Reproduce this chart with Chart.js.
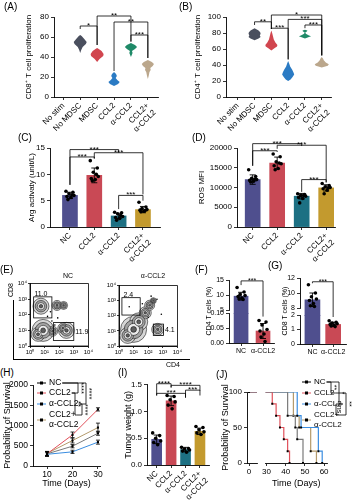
<!DOCTYPE html>
<html><head><meta charset="utf-8">
<script src="https://cdn.jsdelivr.net/npm/chart.js@4"></script>
<style>
body{margin:0;background:#fff;}
#fig{position:relative;width:353px;height:500px;overflow:hidden;font-family:'Liberation Sans',Arial,sans-serif;color:#000;}
#fig canvas{position:absolute;}
.t{position:absolute;white-space:nowrap;line-height:1;}
.ln{position:absolute;background:#000;}
</style></head>
<body><div id="fig"></div>
<script>
// ---------- data ----------
const groupsAB = ['No stim', 'No MDSC', 'MDSC', 'CCL2', 'α-CCL2', ['CCL2+', 'α-CCL2']];
const violinColors = [null, '#4a4f5e', '#d1464f', '#2b7bc4', '#1f8a68', '#bba78c'];
// violin outlines: [value, half width in group spacings]
const violinCD8 = [
  null,
  [[44, 0], [47, 0.05], [50, 0.12], [53, 0.28], [55, 0.32], [58, 0.2], [61, 0.07], [62, 0]],
  [[35, 0], [38, 0.12], [41, 0.3], [43, 0.32], [46, 0.22], [48, 0.08], [49, 0]],
  [[11, 0], [13, 0.2], [15, 0.28], [17, 0.16], [19, 0.08], [21, 0.14], [23, 0.1], [25, 0]],
  [[40, 0], [42, 0.04], [44, 0.08], [46, 0.05], [48, 0.2], [50, 0.3], [52, 0.2], [54, 0]],
  [[18, 0], [21, 0.04], [25, 0.08], [27, 0.14], [29, 0.12], [31, 0.24], [33, 0.3], [35, 0.2], [37, 0]]
];
const violinCD4 = [
  null,
  [[71, 0], [73, 0.2], [75, 0.3], [77, 0.26], [79, 0.3], [81, 0.28], [83, 0.2], [86, 0]],
  [[58, 0], [61, 0.15], [63, 0.28], [65, 0.3], [68, 0.2], [72, 0.12], [76, 0.08], [80, 0.04], [83, 0]],
  [[20, 0], [22, 0.12], [25, 0.22], [28, 0.3], [31, 0.26], [34, 0.2], [38, 0.1], [42, 0.05], [45, 0]],
  [[73, 0], [75, 0.2], [76, 0.3], [77, 0.2], [79, 0.04], [81, 0.02], [82, 0.1], [83, 0.12], [84, 0]],
  [[37, 0], [39, 0.3], [41, 0.35], [43, 0.2], [46, 0.1], [48, 0.06], [50, 0]]
];
// brackets: [from, to, top, left leg end, right leg end, label]
const sigCD8 = [[1, 2, 71, 68, 52, '*'], [2, 4, 81, 52, 55, '**'], [3, 5, 75, 26, 39, '**'], [4, 5, 62, 56, 39, '***']];
const sigCD4 = [[1, 2, 94, 90, 85, '**'], [2, 5, 102.5, 85, 52, '*'], [2, 3, 86, 85, 47, '***'], [3, 5, 97, 47, 52, '***'], [4, 5, 90, 86, 52, '***']];

const barGroups = ['NC', 'CCL2', 'α-CCL2', ['CCL2+', 'α-CCL2']];
const barColors = ['#4f4f8e', '#c94955', '#1d7083', '#c39a2e'];
const argMean = [6.0, 9.8, 2.1, 3.3];
const argSd = [0.6, 1.4, 0.5, 0.6];
const argDots = [[6.8, 6.6, 6.3, 6.0, 5.8, 5.6, 5.2, 6.1], [12.6, 11.2, 10.4, 9.6, 9.2, 9.0, 8.8, 10.0],
  [2.8, 2.7, 2.5, 2.0, 1.8, 1.6, 1.3, 2.2], [4.7, 3.8, 3.5, 3.3, 3.2, 3.0, 2.9, 3.1]];
const sigArg = [[0, 2, 14.7, 8.0, 14.1, '***'], [0, 1, 13.3, 8.0, 13.0, '***'], [1, 3, 14.1, 13.0, 6.2, '***'], [2, 3, 6.0, 3.4, 5.0, '***']];

const rosMean = [12000, 16200, 7800, 9900];
const rosSd = [1200, 1500, 700, 800];
const rosDots = [[14500, 12800, 12300, 12000, 11800, 11600, 11400, 12100], [18500, 17800, 16500, 16000, 15500, 14800, 14500, 16200],
  [8400, 8200, 8000, 7800, 7500, 7200, 6100, 8000], [11000, 10500, 10200, 10000, 9700, 9300, 8400, 9900]];
const sigRos = [[0, 2, 21100, 15500, 20500, '***'], [0, 1, 19300, 15500, 19000, '***'], [1, 3, 20700, 19800, 11300, '***'], [2, 3, 12000, 8900, 11300, '***']];

// flow plots: populations [log10 CD4, log10 CD8, contour size]
const flowTickText = ['10⁰', '10¹', '10²', '10³', '10⁴'];
const popNC = [[0.75, 2.55, 8], [1.85, 2.6, 5], [2.3, 2.6, 4], [0.9, 1.0, 11], [0.55, 0.75, 7], [1.55, 0.95, 5], [2.5, 1.0, 8], [2.25, 1.15, 5]];
const dotsNC = [[1.5, 1.6], [1.4, 2.2], [1.2, 1.9], [1.7, 1.35], [1.9, 1.8]];
const gatesNC = [[0.25, 1.5, 1.8, 3.15, '11.0', 0.3, 3.35, 'left'], [1.6, 3.0, 0.35, 1.5, '11.9', 3.1, 0.9, 'left']];
const popAnti = [[1.0, 1.1, 13], [1.35, 1.6, 9], [1.8, 2.2, 6], [2.1, 2.7, 5], [2.35, 3.0, 3], [2.65, 1.1, 6], [0.6, 0.7, 8]];
const dotsAnti = [[2.6, 3.1], [2.2, 3.3], [1.6, 2.8], [2.9, 2.1], [2.0, 1.9], [0.7, 2.6]];
const gatesAnti = [[0.2, 1.45, 2.05, 3.2, '2.4', 0.3, 3.35, 'left'], [2.35, 3.05, 0.7, 1.45, '4.1', 3.15, 1.05, 'left']];

const pairGroups = ['NC', 'α-CCL2'];
const pairColors = ['#4f4f8e', '#c94955'];
const cd4Mean = [9.6, 0.04];
const cd4Sd = [1.3, 0.025];
const cd4Dots = [[12.5, 11.0, 10.2, 9.8, 9.5, 9.0, 8.7, 8.5], [0.075, 0.07, 0.06, 0.045, 0.04, 0.03, 0.02, 0.005]];
const cd8Mean = [9.1, 1.35];
const cd8Sd = [0.9, 0.15];
const cd8Dots = [[11.1, 10.0, 9.5, 9.2, 9.0, 8.6, 8.3, 8.2], [1.6, 1.5, 1.45, 1.4, 1.35, 1.3, 1.25, 1.2]];

const seriesNames = ['NC', 'CCL2', 'α-CCL2', ['CCL2+', 'α-CCL2']];
const lineColors = ['#7a7a7a', '#e0505a', '#3a8de0', '#b49a6c'];
const days = [10, 20, 30];
const growth = [[300, 490, 810], [300, 770, 1400], [290, 350, 590], [310, 630, 950]];
const growthErr = [[50, 40, 50], [60, 70, 40], [50, 40, 50], [50, 60, 110]];

const tumorMean = [0.48, 1.2, 0.29, 0.63];
const tumorSd = [0.08, 0.09, 0.04, 0.06];
const tumorDots = [[0.6, 0.55, 0.5, 0.45, 0.42, 0.38], [1.3, 1.28, 1.22, 1.18, 1.12, 1.05],
  [0.33, 0.31, 0.3, 0.28, 0.26, 0.24], [0.72, 0.7, 0.66, 0.62, 0.6, 0.57]];
const sigTumor = [[0, 1, 1.52, 1.30, 1.45, '****'], [0, 2, 1.34, 1.30, 1.26, '***'], [1, 3, 1.49, 1.45, 1.39, '****'], [2, 3, 1.40, 1.26, 1.30, '***']];

// survival curves [day, %]
const survival = [
  [[0, 100], [41, 66.7], [45, 50], [46, 33.3], [49, 0]],
  [[0, 100], [33, 83.3], [35, 66.7], [37, 50], [39, 33.3], [41, 16.7], [42, 0]],
  [[0, 100], [46, 66.7], [48, 50], [57, 16.7], [59, 0]],
  [[0, 100], [44, 66.7], [47, 50], [53, 16.7], [56, 0]]
];

// ---------- helpers ----------
const FONT = "'Liberation Sans', Arial, sans-serif";
Chart.defaults.font.family = FONT;
Chart.defaults.color = '#000';
const fig = document.getElementById('fig');
const JIT = [-4, 3, -1, 4, -3, 1, -2, 2];

function text(s, l, t, size, css) {
  const d = document.createElement('div');
  d.className = 't';
  d.textContent = s;
  d.style.cssText += 'left:' + l + 'px;top:' + t + 'px;font-size:' + size + 'px;' + (css || '');
  fig.appendChild(d);
}
function line(l, t, w, h) {
  const d = document.createElement('div');
  d.className = 'ln';
  d.style.cssText += 'left:' + l + 'px;top:' + t + 'px;width:' + w + 'px;height:' + h + 'px';
  fig.appendChild(d);
}

function axLines(tl) {
  return {
    grid: { display: true, drawOnChartArea: false, drawTicks: true, tickLength: tl || 3, color: '#000', lineWidth: 0.8, offset: false },
    border: { display: true, color: '#000', width: 0.9 }
  };
}
function yLin(min, max, ticks, size, fmt, title) {
  return Object.assign(axLines(), {
    type: 'linear', min, max,
    afterBuildTicks: s => { s.ticks = ticks.map(v => ({ value: v })); },
    ticks: { font: { size }, padding: 2, callback: fmt || (v => String(v)) },
    title: title || { display: false }
  });
}
function xCat(labels, min, max, size, rot) {
  return Object.assign(axLines(), {
    type: 'linear', min, max, offset: false,
    afterBuildTicks: s => { s.ticks = labels.map((_, i) => ({ value: i })); },
    ticks: { font: { size }, padding: 1, autoSkip: false, minRotation: rot, maxRotation: rot, callback: v => labels[v] }
  });
}
function yTitle(txt, size, pad) {
  return { display: true, text: txt, font: { size }, padding: { top: pad, bottom: 0 } };
}

function draw(rect, area, type, data, scales, plugins, opt) {
  opt = opt || {};
  const c = document.createElement('canvas');
  c.width = rect[2]; c.height = rect[3];
  c.style.cssText = 'left:' + rect[0] + 'px;top:' + rect[1] + 'px;width:' + rect[2] + 'px;height:' + rect[3] + 'px';
  fig.appendChild(c);
  const pad = {
    left: opt.noY ? area[0] - rect[0] : 0,
    top: area[1] - rect[1],
    right: rect[0] + rect[2] - area[2],
    bottom: opt.noX ? rect[1] + rect[3] - area[3] : 0
  };
  if (!opt.noY) scales.y.afterFit = s => { s.width = area[0] - rect[0]; };
  else scales.y.display = false;
  if (!opt.noX) scales.x.afterFit = s => { s.height = rect[1] + rect[3] - area[3]; };
  else scales.x.display = false;
  return new Chart(c, {
    type, data,
    options: {
      responsive: false, animation: false, devicePixelRatio: 1,
      layout: { padding: pad }, scales,
      plugins: { legend: { display: false }, tooltip: { enabled: false } }
    },
    plugins: plugins || []
  });
}

function violinPlugin(profiles, colors, widen) {
  return {
    id: 'violin', afterDatasetsDraw(chart) {
      const { ctx, scales: { x, y } } = chart;
      const unit = (x.getPixelForValue(1) - x.getPixelForValue(0)) * widen;
      profiles.forEach((p, i) => {
        if (!p) return;
        const cx = x.getPixelForValue(i);
        ctx.beginPath();
        p.forEach(([v, w], k) => { const px = cx + w * unit, py = y.getPixelForValue(v); k ? ctx.lineTo(px, py) : ctx.moveTo(px, py); });
        for (let k = p.length - 1; k >= 0; k--) ctx.lineTo(cx - p[k][1] * unit, y.getPixelForValue(p[k][0]));
        ctx.closePath();
        ctx.fillStyle = colors[i];
        ctx.fill();
      });
    }
  };
}

function bracketPlugin(list, size) {
  return {
    id: 'brackets', afterDraw(chart) {
      const { ctx, scales: { x, y } } = chart;
      ctx.save();
      ctx.strokeStyle = '#000'; ctx.fillStyle = '#000'; ctx.lineWidth = 0.8;
      ctx.font = (size || 8) + 'px ' + FONT;
      ctx.textAlign = 'center'; ctx.textBaseline = 'alphabetic';
      list.forEach(([a, b, top, la, lb, lab]) => {
        const xa = x.getPixelForValue(a), xb = x.getPixelForValue(b), yt = y.getPixelForValue(top);
        ctx.beginPath();
        ctx.moveTo(xa, y.getPixelForValue(la)); ctx.lineTo(xa, yt); ctx.lineTo(xb, yt); ctx.lineTo(xb, y.getPixelForValue(lb));
        ctx.stroke();
        ctx.fillText(lab, (xa + xb) / 2, yt + 2);
      });
      ctx.restore();
    }
  };
}

function dotsPlugin(dots, mean, sd) {
  return {
    id: 'dots', afterDatasetsDraw(chart) {
      const { ctx, chartArea: a, scales: { x, y } } = chart;
      ctx.save();
      ctx.beginPath(); ctx.rect(a.left - 4, a.top - 4, a.right - a.left + 8, a.bottom - a.top + 8); ctx.clip();
      ctx.strokeStyle = '#000'; ctx.fillStyle = '#000'; ctx.lineWidth = 0.9;
      mean.forEach((m, i) => {
        const cx = x.getPixelForValue(i), hi = y.getPixelForValue(m + sd[i]), lo = y.getPixelForValue(m - sd[i]);
        ctx.beginPath();
        ctx.moveTo(cx, hi); ctx.lineTo(cx, lo);
        ctx.moveTo(cx - 3, hi); ctx.lineTo(cx + 3, hi);
        ctx.moveTo(cx - 3, lo); ctx.lineTo(cx + 3, lo);
        ctx.stroke();
        dots[i].forEach((v, k) => {
          ctx.beginPath(); ctx.arc(cx + JIT[k % JIT.length], y.getPixelForValue(v), 1.8, 0, Math.PI * 2); ctx.fill();
        });
      });
      ctx.restore();
    }
  };
}

function barData(mean, colors, thick, below) {
  return { datasets: [{
    data: mean.map((v, i) => ({ x: i, y: v })), backgroundColor: colors, borderWidth: 0, barThickness: thick,
    clip: { left: 0, top: 0, right: 0, bottom: below || 0 }
  }] };
}

function legendPlugin(rect, names, colors, mx, rows, brs, size) {
  return {
    id: 'lg', afterDraw(chart) {
      const ctx = chart.ctx;
      ctx.save();
      ctx.font = size + 'px ' + FONT; ctx.textBaseline = 'middle'; ctx.fillStyle = '#000';
      const ends = [];
      names.forEach((nm, i) => {
        const lines = Array.isArray(nm) ? nm : [nm];
        const x = mx - rect[0], y = rows[i] - rect[1];
        const my = lines.length > 1 ? y + 5 : y;
        ctx.strokeStyle = i === 0 ? '#000' : colors[i]; ctx.lineWidth = 1;
        ctx.beginPath(); ctx.moveTo(x, my); ctx.lineTo(x + 9, my); ctx.stroke();
        ctx.fillRect(x + 3, my - 1.5, 3, 3);
        lines.forEach((s, k) => ctx.fillText(s, x + 12, y + k * 10));
        ends.push(x + 13 + ctx.measureText(lines[0]).width);
      });
      ctx.strokeStyle = '#000'; ctx.lineWidth = 0.8;
      brs.forEach(([a, b, bx, lab]) => {
        const X = bx - rect[0], ya = rows[a] - rect[1], yb = rows[b] - rect[1];
        ctx.beginPath(); ctx.moveTo(ends[a], ya); ctx.lineTo(X, ya); ctx.lineTo(X, yb); ctx.lineTo(ends[b], yb); ctx.stroke();
        ctx.save(); ctx.translate(X + 0.5, (ya + yb) / 2); ctx.rotate(Math.PI / 2);
        ctx.textAlign = 'center'; ctx.textBaseline = 'alphabetic'; ctx.font = (size - 1) + 'px ' + FONT;
        ctx.fillText(lab, 0, 0); ctx.restore();
      });
      ctx.restore();
    }
  };
}

function errPlugin(err) {
  return {
    id: 'err', afterDatasetsDraw(chart) {
      const { ctx, scales: { y } } = chart;
      ctx.save(); ctx.strokeStyle = '#000'; ctx.lineWidth = 0.8;
      err.forEach((e, i) => {
        chart.getDatasetMeta(i).data.forEach((pt, j) => {
          const v = chart.data.datasets[i].data[j].y;
          const hi = y.getPixelForValue(v + e[j]), lo = y.getPixelForValue(v - e[j]);
          ctx.beginPath();
          ctx.moveTo(pt.x, hi); ctx.lineTo(pt.x, lo);
          ctx.moveTo(pt.x - 2, hi); ctx.lineTo(pt.x + 2, hi);
          ctx.moveTo(pt.x - 2, lo); ctx.lineTo(pt.x + 2, lo);
          ctx.stroke();
        });
      });
      ctx.restore();
    }
  };
}

function flowPlugin(gates) {
  return {
    id: 'gates', afterDraw(chart) {
      const { ctx, chartArea: a, scales: { x, y } } = chart;
      ctx.save();
      ctx.strokeStyle = '#000'; ctx.lineWidth = 0.8;
      ctx.strokeRect(a.left, a.top, a.right - a.left, a.bottom - a.top);
      ctx.font = '7px ' + FONT; ctx.fillStyle = '#000'; ctx.textBaseline = 'middle';
      gates.forEach(([x0, x1, y0, y1, lab, lx, ly, al]) => {
        const px0 = x.getPixelForValue(10 ** x0), px1 = x.getPixelForValue(10 ** x1);
        const py0 = y.getPixelForValue(10 ** y0), py1 = y.getPixelForValue(10 ** y1);
        ctx.strokeRect(px0, py1, px1 - px0, py0 - py1);
        ctx.textAlign = al;
        ctx.fillText(lab, x.getPixelForValue(10 ** lx), y.getPixelForValue(10 ** ly));
      });
      ctx.restore();
    }
  };
}

function flowSets(pops, dots) {
  const fills = ['#d6d6d6', '#a3a3a3', '#ececec', '#5e5e5e'];
  const k = [1, 0.72, 0.46, 0.22];
  const sets = k.map((f, lvl) => ({
    type: 'bubble', order: 10 - lvl,
    data: pops.map(p => ({ x: 10 ** p[0], y: 10 ** p[1], r: p[2] * f })),
    backgroundColor: fills[lvl], borderColor: '#1a1a1a', borderWidth: 0.6
  }));
  sets.push({ type: 'bubble', order: 0, data: dots.map(p => ({ x: 10 ** p[0], y: 10 ** p[1], r: 0.8 })), backgroundColor: '#000', borderWidth: 0 });
  return { datasets: sets };
}
function flowAxis(fontSize) {
  return Object.assign(axLines(2), {
    type: 'logarithmic', min: 1, max: 10000,
    afterBuildTicks: s => { s.ticks = [1, 10, 100, 1000, 10000].map(v => ({ value: v })); },
    ticks: { font: { size: fontSize }, padding: 1, autoSkip: false, maxRotation: 0, callback: v => flowTickText[Math.round(Math.log10(v))] }
  });
}

// ---------- (A) ----------
draw([0, 0, 175, 135], [54, 17, 158, 97], 'scatter', { datasets: [{ data: [] }] }, {
  x: xCat(groupsAB, -0.55, 5.6, 8, 45),
  y: yLin(0, 80, [0, 20, 40, 60, 80], 8, null, yTitle('CD8⁺ T cell proliferation', 8, 24))
}, [violinPlugin(violinCD8, violinColors, 1.2), bracketPlugin(sigCD8)]);

// ---------- (B) ----------
draw([175, 0, 178, 135], [226, 17, 331, 97], 'scatter', { datasets: [{ data: [] }] }, {
  x: xCat(groupsAB, -0.7, 5.55, 8, 45),
  y: yLin(0, 100, [0, 20, 40, 60, 80, 100], 8, null, yTitle('CD4⁺ T cell proliferation', 8, 18))
}, [violinPlugin(violinCD4, violinColors, 1.2), bracketPlugin(sigCD4)]);

// ---------- (C) ----------
draw([0, 135, 175, 132], [50, 148, 160, 227], 'bar', barData(argMean, barColors, 15), {
  x: xCat(barGroups, -0.82, 3.7, 8, 45),
  y: yLin(0, 15, [0, 5, 10, 15], 8, null, yTitle('Arg activaty (unit/L)', 8, 27))
}, [dotsPlugin(argDots, argMean, argSd), bracketPlugin(sigArg)]);

// ---------- (D) ----------
draw([175, 135, 178, 132], [237, 148, 335, 227], 'bar', barData(rosMean, barColors, 15), {
  x: xCat(barGroups, -0.64, 3.36, 8, 45),
  y: yLin(0, 20000, [0, 5000, 10000, 15000, 20000], 8, null, yTitle('ROS MFI', 8, 22))
}, [dotsPlugin(rosDots, rosMean, rosSd), bracketPlugin(sigRos)]);

// ---------- (E) ----------
draw([16, 272, 84, 88], [30, 278, 97, 346], 'bubble', flowSets(popNC, dotsNC), {
  x: flowAxis(6), y: flowAxis(6)
}, [flowPlugin(gatesNC)]);
draw([103, 272, 88, 88], [119, 278, 187, 346], 'bubble', flowSets(popAnti, dotsAnti), {
  x: flowAxis(6), y: flowAxis(6)
}, [flowPlugin(gatesAnti)]);

// ---------- (F) broken axis ----------
draw([200, 272, 78, 50], [229, 280, 274, 310], 'bar', barData(cd4Mean, pairColors, 14, 4), {
  x: xCat(pairGroups, -0.55, 1.5, 7, 0),
  y: yLin(5, 15, [5, 10, 15], 7)
}, [dotsPlugin(cd4Dots, cd4Mean, cd4Sd), bracketPlugin([[0, 1, 14.7, 13.3, 2.8, '***']], 7)], { noX: true });
draw([200, 306, 78, 56], [229, 313, 274, 343], 'bar', barData(cd4Mean, pairColors, 14), {
  x: xCat(pairGroups, -0.55, 1.5, 7, 0),
  y: yLin(0, 0.1, [0, 0.05, 0.1], 7, v => v.toFixed(2))
}, [dotsPlugin(cd4Dots, cd4Mean, cd4Sd)]);

// ---------- (G) broken axis ----------
draw([272, 270, 81, 52], [300, 278, 346, 308], 'bar', barData(cd8Mean, pairColors, 15, 8), {
  x: xCat(pairGroups, -0.6, 1.62, 7, 0),
  y: yLin(8, 12, [8, 10, 12], 7)
}, [dotsPlugin(cd8Dots, cd8Mean, cd8Sd), bracketPlugin([[0, 1, 11.5, 11.3, 6.8, '***']], 7)], { noX: true });
draw([272, 308, 81, 54], [300, 315, 346, 344], 'bar', barData(cd8Mean, pairColors, 15), {
  x: xCat(pairGroups, -0.6, 1.62, 7, 0),
  y: yLin(0, 2, [0, 1, 2], 7)
}, [dotsPlugin(cd8Dots, cd8Mean, cd8Sd)]);

// ---------- (H) ----------
const hX = Object.assign(axLines(), {
  type: 'linear', min: 4.5, max: 30.8,
  afterBuildTicks: s => { s.ticks = days.map(v => ({ value: v })); },
  ticks: { font: { size: 8.5 }, padding: 1 },
  title: { display: true, text: 'Time (Days)', font: { size: 9 }, padding: { top: 0, bottom: 11 } }
});
draw([0, 378, 115, 122], [33, 384, 100, 466], 'line', {
  datasets: growth.map((g, i) => ({
    data: g.map((v, j) => ({ x: days[j], y: v })),
    borderColor: lineColors[i], borderWidth: 1, pointStyle: 'rect', pointRadius: 1.5,
    pointBackgroundColor: '#000', pointBorderColor: '#000', pointBorderWidth: 0
  }))
}, {
  x: hX,
  y: yLin(0, 2000, [0, 500, 1000, 1500, 2000], 8.5, null, yTitle('Probability of Survival', 9, 2.5))
}, [errPlugin(growthErr), legendPlugin([0, 378], seriesNames, lineColors, 37, [383, 393, 404, 415],
  [[0, 1, 78, '****'], [0, 2, 86, '****'], [1, 3, 75, '**'], [2, 3, 82, '****']], 8.5)]);

// ---------- (I) ----------
draw([118, 378, 97, 122], [147, 384, 212, 465], 'bar', barData(tumorMean, barColors, 10), {
  x: xCat(barGroups, -0.67, 3.67, 8, 45),
  y: yLin(0, 1.5, [0, 0.5, 1, 1.5], 8, v => v.toFixed(1), yTitle('Tumor weight (g)', 9, 5))
}, [dotsPlugin(tumorDots, tumorMean, tumorSd), bracketPlugin(sigTumor, 8)]);

// ---------- (J) broken x axis ----------
function survSets() {
  return {
    datasets: survival.map((s, i) => ({
      data: s.map(p => ({ x: p[0], y: p[1] })), stepped: 'before',
      borderColor: lineColors[i], borderWidth: 1.2, pointStyle: 'rect', pointRadius: 1.4,
      pointBackgroundColor: '#000', pointBorderWidth: 0
    }))
  };
}
draw([218, 378, 43, 122], [247, 392, 261, 463], 'line', survSets(), {
  x: Object.assign(axLines(), {
    type: 'linear', min: -1.5, max: 6,
    afterBuildTicks: s => { s.ticks = [{ value: 0 }]; },
    ticks: { font: { size: 8 }, padding: 1 }
  }),
  y: yLin(0, 100, [0, 50, 100], 8, null, yTitle('Probability of Survival', 9, 2.5))
});
draw([261, 378, 92, 122], [263, 392, 327, 463], 'line', survSets(), {
  x: Object.assign(axLines(), {
    type: 'linear', min: 29.5, max: 61.5,
    afterBuildTicks: s => { s.ticks = [30, 40, 50, 60].map(v => ({ value: v })); },
    ticks: { font: { size: 8 }, padding: 1 },
    title: { display: true, text: 'Time (Days)', font: { size: 9 }, padding: { top: 0, bottom: 11 } }
  }),
  y: { type: 'linear', min: 0, max: 100 }
}, [legendPlugin([261, 378], seriesNames, lineColors, 302, [382, 393, 404, 415],
  [[0, 1, 331, '**'], [0, 2, 339, '*'], [2, 3, 336, 'ns'], [1, 3, 346, '**']], 8)], { noY: true });

// ---------- text outside the plots ----------
[['(A)', 4, 2], ['(B)', 179, 2], ['(C)', 18, 133], ['(D)', 192, 133], ['(E)', 0, 265], ['(F)', 195, 265],
 ['(G)', 268, 261], ['(H)', 0, 368], ['(I)', 118, 368], ['(J)', 216, 370]].forEach(p => text(p[0], p[1], p[2], 10));
text('NC', 68, 272, 7, 'transform:translateX(-50%)');
text('α-CCL2', 153, 272, 7, 'transform:translateX(-50%)');
text('CD8', 10, 290, 7, 'transform:translate(-50%,-50%) rotate(-90deg)');
text('CD4', 173, 361, 7, 'transform:translateX(-50%)');
line(13, 300, 0.8, 59);
line(13, 359, 177, 0.8);
text('CD4 T cells (%)', 208, 311, 7, 'transform:translate(-50%,-50%) rotate(-90deg)');
text('CD8 T cells (%)', 284, 311, 7, 'transform:translate(-50%,-50%) rotate(-90deg)');
</script>
</body></html>
